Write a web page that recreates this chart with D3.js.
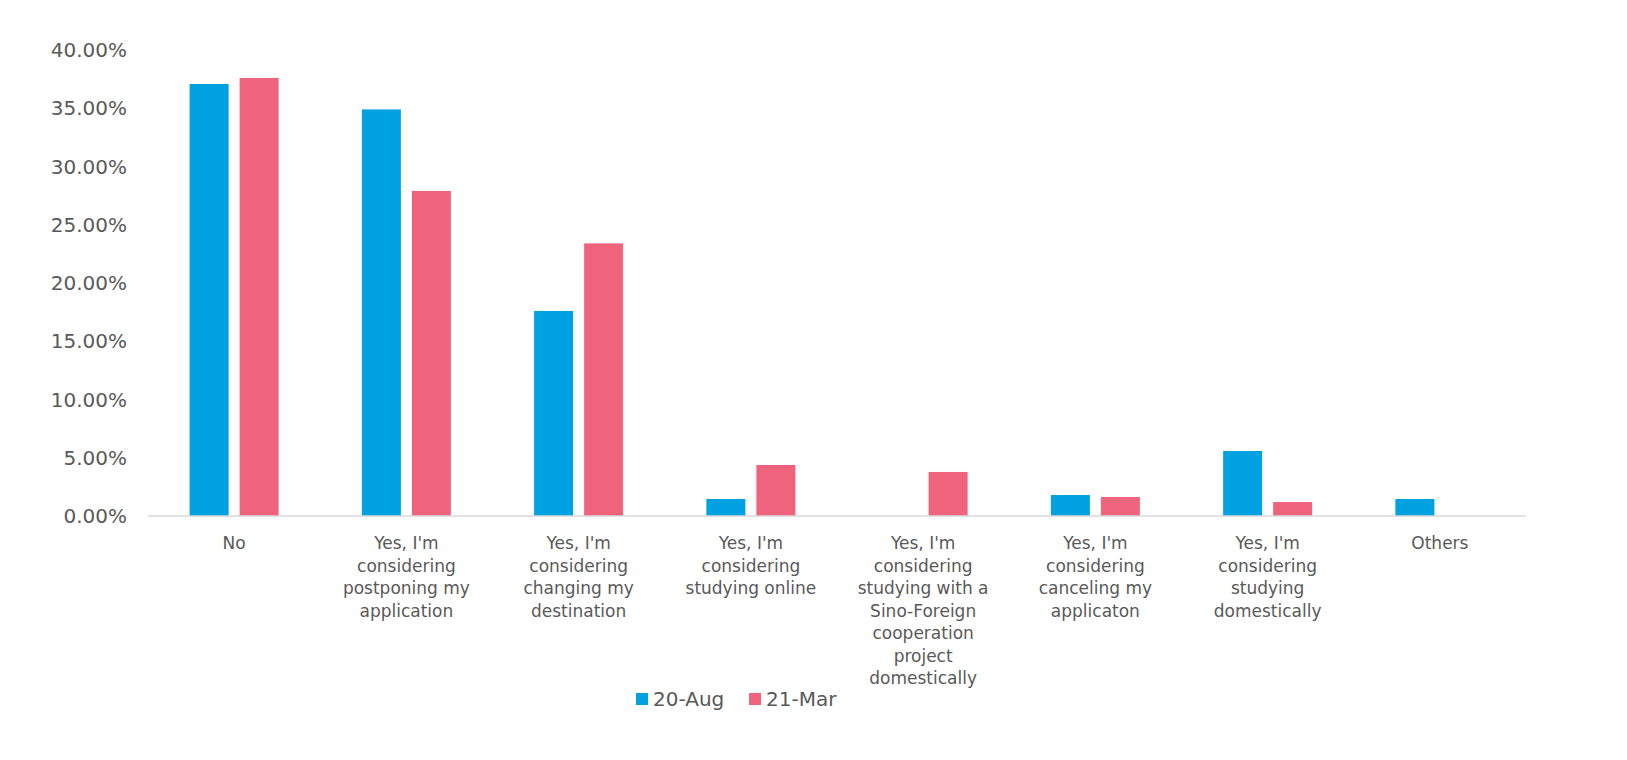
<!DOCTYPE html>
<html><head><meta charset="utf-8">
<script src="https://cdn.jsdelivr.net/npm/d3@7"></script>
<style>body{margin:0;background:#fff}text{font-family:"DejaVu Sans",Verdana,sans-serif;fill:#595959}</style>
</head><body><svg id="c"></svg>
<script>
const categories = [
  ["No"],
  ["Yes, I'm", "considering", "postponing my", "application"],
  ["Yes, I'm", "considering", "changing my", "destination"],
  ["Yes, I'm", "considering", "studying online"],
  ["Yes, I'm", "considering", "studying with a", "Sino-Foreign", "cooperation", "project", "domestically"],
  ["Yes, I'm", "considering", "canceling my", "applicaton"],
  ["Yes, I'm", "considering", "studying", "domestically"],
  ["Others"]
];
const aug20 = [0.3708, 0.349, 0.176, 0.0146, 0, 0.018, 0.0558, 0.0146];
const mar21 = [0.376, 0.279, 0.234, 0.0438, 0.0378, 0.0163, 0.012, 0];
const seriesNames = ["20-Aug", "21-Mar"];
const colors = ["#00A1E0", "#F0637C"];
const yTicks = [0, 0.05, 0.1, 0.15, 0.2, 0.25, 0.3, 0.35, 0.4];

const W = 1627, H = 760;
const m = {left: 148, right: 101, top: 50, bottom: 244};
const svg = d3.select("#c").attr("width", W).attr("height", H);
const x = d3.scaleBand().domain(d3.range(categories.length)).range([m.left, W - m.right]);
const y = d3.scaleLinear().domain([0, 0.4]).range([H - m.bottom, m.top]);
const barW = 39, gap = 11;

// y axis labels
svg.append("g").selectAll("text").data(yTicks).join("text")
  .attr("x", 127).attr("y", d => y(d)).attr("dy", "0.35em")
  .attr("text-anchor", "end").style("font-size", "20px")
  .text(d => d3.format(".2%")(d));

[aug20, mar21].forEach((vals, s) => {
  svg.append("g").selectAll("rect").data(vals).join("rect")
    .attr("x", (d, i) => x(i) + x.bandwidth() / 2 + (s === 0 ? -gap / 2 - barW : gap / 2))
    .attr("width", barW)
    .attr("y", d => y(d)).attr("height", d => y(0) - y(d))
    .attr("fill", colors[s]);
});

svg.append("line").attr("x1", m.left).attr("x2", W - m.right)
  .attr("y1", y(0)).attr("y2", y(0)).attr("stroke", "#d9d9d9").attr("stroke-width", 1.5);

const lab = svg.append("g").selectAll("text").data(categories).join("text")
  .attr("text-anchor", "middle").style("font-size", "17px")
  .attr("transform", (d, i) => `translate(${x(i) + x.bandwidth() / 2},549)`);
lab.selectAll("tspan").data(d => d).join("tspan")
  .attr("x", 0).attr("y", (d, i) => i * 22.5).text(d => d);

// legend
const lg = svg.append("g").attr("transform", "translate(636,699)");
seriesNames.forEach((n, i) => {
  const g = lg.append("g").attr("transform", `translate(${i * 113},0)`);
  g.append("rect").attr("x", 0).attr("y", -6).attr("width", 12).attr("height", 12).attr("fill", colors[i]);
  g.append("text").attr("x", 17).attr("y", 0).attr("dy", "0.35em").style("font-size", "20px").text(n);
});
</script></body></html>
